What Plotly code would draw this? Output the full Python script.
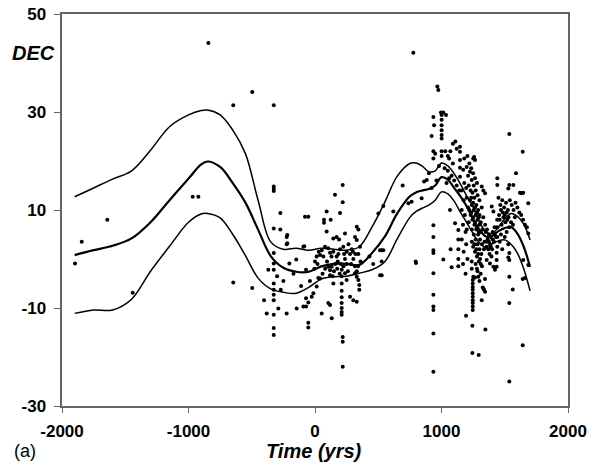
import plotly.graph_objects as go

# ---- smoothed curves (mean and confidence envelope) ----
curve_year = [-1900, -1750, -1600, -1450, -1300, -1150, -1000, -900, -850, -750, -650, -550, -450, -350,
              -250, -150, -50, 50, 150, 250, 350, 450, 550, 650, 750, 800, 850, 900, 950, 1000, 1050,
              1100, 1150, 1200, 1250, 1300, 1350, 1400, 1450, 1500, 1550, 1600, 1650, 1700]
curve_mean = [0.8, 1.8, 2.7, 4.2, 7.5, 12.0, 16.4, 19.3, 19.9, 18.8, 15.5, 11.5, 6.0, 0.6,
              -1.8, -2.6, -2.6, -1.5, -1.0, -1.0, -1.2, 1.2, 4.5, 9.3, 12.8, 13.6, 14.0, 14.3, 15.0, 16.7, 16.2,
              14.5, 12.8, 10.7, 8.2, 6.0, 4.6, 4.7, 5.7, 6.3, 6.5, 5.2, 2.5, -1.6]
curve_upper = [12.7, 14.5, 16.3, 18.0, 22.2, 27.0, 29.4, 30.3, 30.4, 29.4, 26.3, 21.5, 12.0, 3.5,
               2.0, 2.2, 1.8, 2.2, 2.0, 1.8, 2.5, 6.5, 11.5, 16.9, 19.5, 19.6, 18.9, 17.8, 18.0, 19.6, 19.0,
               17.4, 15.3, 12.8, 10.6, 7.6, 5.6, 5.2, 6.5, 8.2, 9.3, 8.7, 7.1, 3.9]
curve_lower = [-11.1, -10.4, -10.4, -8.2, -2.5, 2.6, 7.5, 9.2, 9.3, 8.4, 5.0, 0.7, -3.9, -6.1,
               -6.8, -7.0, -5.8, -4.1, -3.6, -3.5, -2.9, -2.2, -0.6, 4.1, 8.5, 9.7, 10.4, 11.0, 12.0, 13.7, 13.3,
               11.8, 9.5, 7.4, 5.2, 3.3, 2.3, 3.1, 3.7, 3.9, 3.0, 1.2, -2.0, -6.5]

# ---- individual observations (year, DEC) ----
obs_early = [(-1897, -0.9), (-1844, 3.5), (-1642, 8.0), (-1441, -6.9), (-967, 12.7), (-922, 12.7),
             (-843, 44.1), (-646, 31.4), (-496, 34.1), (-326, 31.4), (-646, -4.8), (-496, -5.9)]

obs_bc = [(-326, 14.8), (-326, 14.3), (-326, 13.9), (-326, 6.2), (-326, 1.2), (-326, -0.9), (-326, -2.2),
          (-326, -5.0), (-326, -6.3), (-326, -7.3), (-326, -8.4), (-326, -11.4), (-326, -14.1), (-326, -15.5),
          (-369, -2.2), (-403, -8.4), (-382, -11.1), (-274, 9.4), (-274, 6.0), (-224, 4.5), (-224, 3.0),
          (-290, -10.1), (-271, -6.3), (-224, -11.1), (-219, 4.9), (-219, 3.2), (-203, -0.9), (-148, -0.1),
          (-145, -10.1), (-92, -9.7), (-71, -9.7), (-53, -13.0), (-53, -14.0), (-71, -8.0), (-53, -8.9),
          (-13, -7.0), (13, -5.6), (26, -3.9), (13, 0.5), (-85, 2.6), (-79, 8.6), (-53, 8.6), (-92, 2.5),
          (-71, -2.2), (-26, -7.7), (-110, -5.5), (-170, -3.0), (-250, -4.5), (-300, -3.5), (-40, -4.5),
          (-5, -2.0)]

obs_ad = [(219, 15.1), (158, 13.1), (219, 11.6), (198, 9.4), (92, 9.7), (71, 8.0), (71, 7.4), (124, 8.0),
          (92, 5.6), (145, 4.2), (171, 4.5), (237, 5.2), (330, 6.6), (343, 6.0), (316, 4.5), (330, 3.9),
          (53, 1.8), (79, 2.5), (105, 2.2), (119, 1.3), (66, 0.5), (40, 0.8), (145, 1.5), (171, 0.5),
          (198, 2.0), (224, 2.5), (237, 0.0), (250, -1.0), (277, 1.0), (290, 2.0), (303, 0.0), (316, -1.5),
          (330, -2.5), (343, 1.0), (356, 2.5), (250, 1.5), (180, -0.5), (160, -1.0), (105, -1.6),
          (119, -2.3), (132, -1.6), (119, -3.3), (140, -3.5), (150, -2.5), (211, -2.2), (211, -3.5),
          (211, -5.0), (211, -6.5), (211, -7.8), (211, -9.0), (211, -10.0), (211, -10.8), (211, -11.4),
          (219, -15.9), (219, -16.9), (219, -22.0), (237, -2.9), (250, -4.3), (277, -7.7), (303, -8.4),
          (330, -8.7), (316, -2.9), (330, -3.6), (343, -4.3), (350, -5.3), (350, -6.3), (145, -5.0),
          (105, -9.0), (119, -9.4), (132, -12.1), (53, -11.1), (40, -4.0), (60, -3.0), (80, -2.0),
          (20, -1.0), (30, 1.5), (0, -0.5), (190, 4.0), (265, 3.0), (95, -0.5), (130, 0.5),
          (185, 1.0), (205, -1.0), (230, 1.0), (260, -2.5), (285, -1.0), (300, 1.5), (320, 1.0),
          (340, -1.5), (360, -0.5), (175, -2.0), (195, -3.0), (225, -1.5)]

obs_mid = [(501, 9.3), (527, -0.5), (514, -3.3), (693, 15.0), (738, 11.4), (764, 11.7), (843, 12.4),
           (798, -0.8), (883, 16.1), (862, 15.8), (777, 42.1), (967, 35.2), (975, 34.5), (540, 10.8),
           (619, 9.7), (514, 1.8), (527, 1.8), (540, 1.8), (527, -3.3), (796, -0.5), (430, 0.5), (460, -1.0)]

obs_1000 = [(996, 29.9), (1014, 29.9), (1036, 29.4), (1001, 29.4), (936, 29.0), (941, 27.3), (922, 25.1),
            (1001, 28.4), (1001, 27.3), (1001, 26.3), (1001, 25.3), (1001, 24.6), (936, 22.0), (950, 21.5),
            (936, 20.5), (1001, 22.0), (1001, 21.0), (1030, 22.0), (1050, 21.0), (1070, 22.0), (1060, 20.5),
            (1120, 22.5), (1090, 23.5), (1110, 24.0), (936, 6.9), (936, 4.5), (936, 1.8), (936, 1.2),
            (936, -2.9), (936, -7.3), (936, -9.7), (936, -10.4), (936, -15.2), (936, -23.0), (1014, -0.1),
            (1072, 2.0), (1080, -1.7), (1067, 10.0), (1107, 7.3), (1133, 5.9), (1133, 4.0), (1133, 2.0),
            (1133, 0.0), (1133, -1.5), (922, 14.5), (900, 17.5), (980, 19.0), (1050, 18.0), (1080, 17.0),
            (1100, 16.0), (1120, 15.0), (1140, 14.0), (960, 16.0), (1040, 15.5), (1090, 19.5),
            (1060, 16.5), (1025, 18.5)]

obs_1200 = [(1146, 22.9), (1146, 21.9), (1146, 20.2), (1146, 18.6), (1146, 16.8), (1172, 18.2),
            (1199, 18.8), (1225, 17.8), (1239, 16.1), (1251, 20.5), (1265, 20.2), (1258, 20.8),
            (1215, 15.0), (1230, 14.0), (1245, 13.5), (1260, 12.5), (1275, 11.0), (1290, 10.0),
            (1225, 12.0), (1240, 11.0), (1255, 10.0), (1270, 9.0), (1285, 8.0), (1300, 7.0),
            (1230, 9.0), (1245, 8.0), (1260, 7.0), (1275, 6.0), (1290, 5.0), (1305, 4.0),
            (1240, 6.0), (1255, 5.0), (1270, 4.0), (1285, 3.0), (1300, 2.0), (1315, 1.0),
            (1250, 2.5), (1265, 1.5), (1280, 0.5), (1295, -0.5), (1310, -1.0), (1240, 3.5),
            (1160, 14.0), (1175, 12.0), (1160, 10.0), (1185, 9.0), (1170, 7.0), (1190, 5.5),
            (1200, 12.5), (1210, 10.5), (1195, 3.0), (1175, 1.5), (1160, 4.0), (1205, 0.0),
            (1318, 14.8), (1331, 14.0), (1344, 13.4), (1397, 10.7), (1410, 9.7), (1318, 10.5),
            (1330, 8.5), (1345, 7.0), (1360, 6.0), (1375, 5.0), (1390, 4.5), (1405, 4.0), (1420, 5.0),
            (1340, 3.5), (1355, 2.5), (1370, 2.0), (1385, 3.0), (1400, 2.0), (1415, 3.5), (1430, 4.5),
            (1350, 5.5), (1365, 4.0), (1380, 1.0), (1395, 0.5), (1325, 6.0), (1310, 5.5), (1300, 9.0),
            (1251, -3.6), (1265, -3.8), (1291, -3.6), (1247, -4.3), (1247, -5.0), (1247, -5.7),
            (1247, -6.3), (1247, -7.0), (1247, -7.7), (1247, -8.4), (1247, -9.0), (1247, -9.7),
            (1247, -10.4), (1331, -6.0), (1344, -6.7), (1336, -6.3), (1326, -5.8), (1344, -4.1),
            (1318, -8.4), (1194, -11.6), (1244, -13.6), (1347, -14.4), (1244, -19.2), (1294, -19.6),
            (1239, -0.5), (1239, -2.0), (1270, -1.0), (1285, -2.5), (1300, -4.5), (1310, -3.0),
            (1357, -0.2), (1383, -0.9), (1410, -1.6), (1423, -2.2), (1190, -3.0), (1170, -1.0)]

obs_dense = [(1220, 19.5), (1235, 18.5), (1250, 17.5), (1265, 16.5), (1280, 15.5), (1210, 17.0),
             (1255, 15.0), (1270, 14.0), (1285, 13.0), (1300, 12.0), (1235, 12.5), (1250, 11.5),
             (1265, 10.5), (1280, 9.5), (1295, 8.5), (1310, 7.5), (1220, 10.0), (1235, 9.5),
             (1250, 8.5), (1265, 7.5), (1280, 6.5), (1295, 5.5), (1320, 3.0), (1335, 2.0),
             (1260, 3.0), (1275, 2.0), (1290, 1.0), (1305, 0.0), (1320, -1.5), (1280, -2.0),
             (1360, 3.5), (1375, 3.5), (1390, 2.5), (1405, 5.5), (1420, 6.5), (1440, 8.0),
             (1455, 9.0), (1470, 10.0), (1485, 9.5), (1500, 9.0), (1515, 9.5), (1530, 8.5),
             (1180, 15.5), (1195, 14.5), (1180, 20.5), (1205, 21.0), (1215, 7.5), (1200, 6.0)]

obs_late = [(1536, 25.5), (1642, 21.9), (1589, 17.5), (1441, 16.5), (1441, 15.1), (1528, 14.4),
            (1568, 15.1), (1620, 13.5), (1646, 13.5), (1686, 11.4), (1536, 15.1), (1633, 13.4),
            (1450, 12.5), (1465, 11.0), (1480, 12.0), (1495, 10.5), (1510, 11.5), (1525, 10.0),
            (1540, 12.0), (1555, 11.0), (1570, 10.0), (1585, 11.5), (1600, 10.5), (1615, 9.5),
            (1630, 9.0), (1645, 8.0), (1660, 7.0), (1675, 6.5), (1686, 5.2), (1460, 8.0), (1475, 7.0),
            (1490, 8.5), (1505, 7.5), (1520, 8.0), (1535, 6.5), (1550, 7.5), (1565, 7.0), (1580, 8.5),
            (1441, 6.5), (1441, 4.5), (1441, 2.5), (1436, 1.3), (1436, -0.2), (1436, -1.6),
            (1528, 3.0), (1528, 0.3), (1536, 1.2), (1536, -0.2), (1536, -3.6), (1563, -6.2),
            (1536, -9.0), (1646, -0.2), (1686, -1.2), (1660, -3.9), (1642, -4.1), (1642, -17.6),
            (1536, -25.0), (1460, 3.5), (1480, 2.0), (1500, 4.5), (1515, 5.5), (1470, 5.0)]

obs_all = obs_early + obs_bc + obs_ad + obs_mid + obs_1000 + obs_1200 + obs_dense + obs_late
obs_year = [p[0] for p in obs_all]
obs_dec = [p[1] for p in obs_all]

x_ticks = [-2000, -1000, 0, 1000, 2000]
y_ticks = [-30, -10, 10, 30, 50]

fig = go.Figure()
fig.add_trace(go.Scatter(x=obs_year, y=obs_dec, mode="markers",
                         marker=dict(color="black", size=4), showlegend=False))
fig.add_trace(go.Scatter(x=curve_year, y=curve_upper, mode="lines", line_shape="spline",
                         line=dict(color="black", width=1.5), showlegend=False))
fig.add_trace(go.Scatter(x=curve_year, y=curve_lower, mode="lines", line_shape="spline",
                         line=dict(color="black", width=1.5), showlegend=False))
fig.add_trace(go.Scatter(x=curve_year, y=curve_mean, mode="lines", line_shape="spline",
                         line=dict(color="black", width=2.2), showlegend=False))

tick_font = dict(family="Liberation Sans, Arial", size=17, color="black", weight="bold")
fig.update_xaxes(range=[-2000, 2000], tickvals=x_ticks, ticktext=[str(v) for v in x_ticks],
                 showgrid=False, zeroline=False, showline=True, mirror=True, automargin=False,
                 linecolor="#666666", linewidth=1.5, ticks="outside", ticklen=5,
                 tickcolor="#666666", tickfont=tick_font, ticklabelstandoff=4)
fig.update_yaxes(range=[-30, 50], tickvals=y_ticks, ticktext=[str(v) + "\u00a0" for v in y_ticks],
                 showgrid=False, zeroline=False, showline=True, mirror=True, automargin=False,
                 linecolor="#666666", linewidth=1.5, ticks="outside", ticklen=6,
                 tickcolor="#666666", tickfont=tick_font)

fig.update_layout(
    template="none",
    width=599, height=465, autosize=False,
    margin=dict(l=62, r=31, t=14, b=59, pad=0),
    paper_bgcolor="white", plot_bgcolor="white",
    hovermode=False,
    annotations=[
        dict(text="<b><i>DEC</i></b>", xref="paper", yref="paper", x=-0.01, y=0.9,
             xanchor="right", yanchor="middle", showarrow=False,
             font=dict(family="Liberation Sans, Arial", size=20, color="black")),
        dict(text="<b><i>Time (yrs)</i></b>", xref="paper", yref="paper", x=0.498, y=-0.115,
             xanchor="center", yanchor="middle", showarrow=False,
             font=dict(family="Liberation Sans, Arial", size=20, color="black")),
        dict(text="(a)", xref="paper", yref="paper", x=-0.099, y=-0.115,
             xanchor="left", yanchor="middle", showarrow=False,
             font=dict(family="Liberation Sans, Arial", size=18, color="black")),
    ],
)

fig.write_html("out.html", config={"responsive": False, "displayModeBar": False},
               post_script="document.body.style.margin='0';document.body.style.overflow='hidden';")
